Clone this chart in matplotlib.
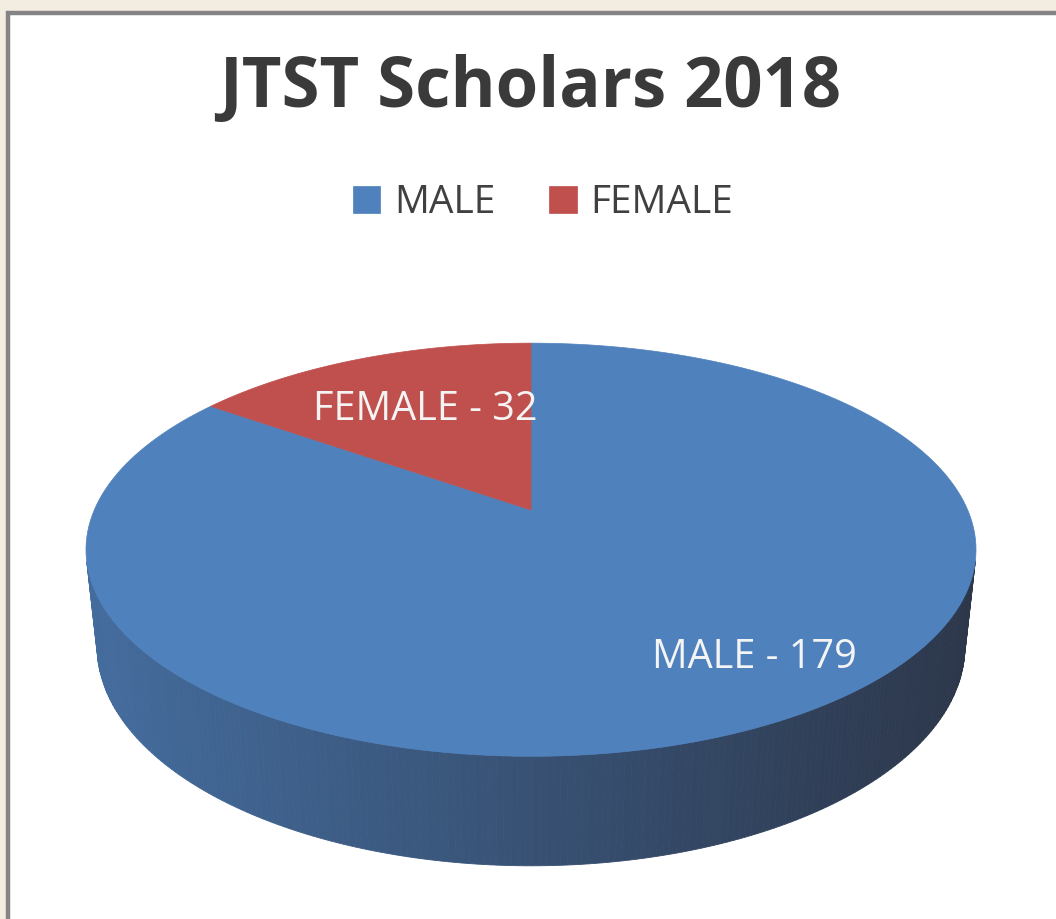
import numpy as np
import matplotlib.pyplot as plt
from matplotlib.patches import Polygon, Rectangle
from matplotlib.colors import to_rgb

# data
labels = ["MALE", "FEMALE"]
counts = [179, 32]
title = "JTST Scholars 2018"

# style
top_colors = ["#4f81bd", "#c0504d"]
side_dark = "#2b3446"
text_dark = "#3a3a3a"
label_radius = [0.79, 0.62]     # where the data labels sit on the top face
label_turn = [7.3, -1.6]        # small angular nudge (deg)

W, H = 1056, 919

# perspective camera fitted to the reference
elev = np.radians(27.1)
dist = 4.63
k = 2022.0
cx, cy = 531.0, 510.0
thick = 0.25


def project(x, y, z):
    s, c = np.sin(elev), np.cos(elev)
    depth = dist + y * c - z * s
    px = cx + k * x / depth
    py = cy - k * (y * s + z * c) / depth
    return px, py


def arc(a0, a1, z, n=200):
    t = np.radians(np.linspace(a0, a1, n))
    return project(np.cos(t), np.sin(t), z)


def side_color(base, px):
    # darker towards the right, like the office 3D pie
    t = 0.12 + 0.85 * (px - 85) / (980 - 85)
    t = min(max(t, 0.0), 1.0)
    b = np.array(to_rgb(base)) * 0.9
    d = np.array(to_rgb(side_dark))
    return tuple(b * (1 - t) + d * t)


fig = plt.figure(figsize=(W / 100, H / 100), dpi=100)
fig.patch.set_facecolor("#f3ece1")
ax = fig.add_axes([0, 0, 1, 1])
ax.set_xlim(0, W)
ax.set_ylim(H, 0)
ax.axis("off")

# chart frame (runs off the right / bottom edge in the reference)
ax.add_patch(Rectangle((8, 13), W + 40, H + 40, facecolor="white",
                       edgecolor="#848484", linewidth=3.2, zorder=0))

# slice angles: start at 12 o'clock, go clockwise
total = float(sum(counts))
bounds = 90 - 360 * np.concatenate([[0], np.cumsum(counts)]) / total

# visible side wall: outward normal faces the camera
vis_lim = -1.0 / (dist * np.cos(elev))
for i in range(len(counts)):
    a0, a1 = bounds[i], bounds[i + 1]
    steps = np.linspace(a0, a1, 400)
    for u, v in zip(steps[:-1], steps[1:]):
        m = np.radians((u + v) / 2)
        if np.sin(m) >= vis_lim:
            continue
        xt, yt = arc(u, v, 0, 3)
        xb, yb = arc(v, u, -thick, 3)
        xs = np.concatenate([xt, xb])
        ys = np.concatenate([yt, yb])
        col = side_color(top_colors[i], xs.mean())
        ax.add_patch(Polygon(np.column_stack([xs, ys]), closed=True,
                             facecolor=col, edgecolor=col, linewidth=0.6,
                             zorder=1))

# top face
for i in range(len(counts)):
    a0, a1 = bounds[i], bounds[i + 1]
    xs, ys = arc(a0, a1, 0)
    ox, oy = project(0, 0, 0)
    pts = np.column_stack([np.r_[ox, xs], np.r_[oy, ys]])
    ax.add_patch(Polygon(pts, closed=True, facecolor=top_colors[i],
                         edgecolor=top_colors[i], linewidth=0.5, zorder=2,
                         label=labels[i]))

# data labels
for i in range(len(counts)):
    mid = np.radians((bounds[i] + bounds[i + 1]) / 2 + label_turn[i])
    r = label_radius[i]
    lx, ly = project(r * np.cos(mid), r * np.sin(mid), 0)
    ax.text(lx, ly, f"{labels[i]} - {counts[i]}", ha="center", va="center",
            fontsize=28.5, color="#f4f4f4", family="Open Sans", zorder=3)

ax.text(530, 107, title, ha="center", va="baseline", fontsize=49.5,
        fontweight="bold", color=text_dark, family="Open Sans")

leg = ax.legend(loc="center", bbox_to_anchor=(543 / W, 1 - 203 / H), ncol=2,
                frameon=False, prop={"family": "Open Sans", "size": 28},
                handlelength=0.7, handleheight=0.7, handletextpad=0.35,
                columnspacing=1.4)
for t in leg.get_texts():
    t.set_color("#404040")

fig.savefig("out.png", dpi=100, facecolor=fig.get_facecolor())
